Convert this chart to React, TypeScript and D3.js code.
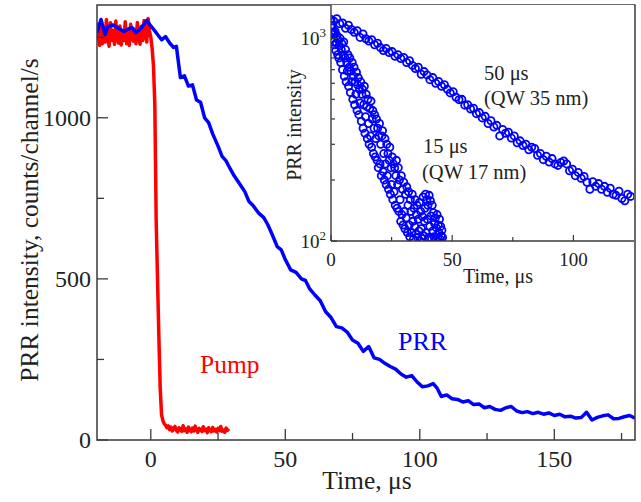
import React from "react";
import * as d3 from "d3";

const width = 641;
const height = 502;

// main panel: PRR and pump transients (linear)
const prrTime = [-20, -18.5, -17, -16, -14, -12, -10, -8.5, -7, -5.5, -3.5, -1.5, 0, 2, 4, 5.5, 7, 8.5, 9.5, 11, 12.5, 14, 15.5, 17, 18.5, 20, 21.5, 23, 25, 26.5, 28, 29.5, 31, 33, 35, 36.5, 38, 40, 42, 43.5, 45, 47, 48.5, 50, 52, 54, 56, 57.5, 59, 61, 63, 65, 67, 69, 71, 73, 75, 77, 79, 81, 83, 85, 87, 89, 91, 93, 95, 97, 99, 101, 103, 105, 106.5, 108, 110, 112, 114, 116, 118, 120, 122, 124, 126, 128, 130, 132, 134, 136, 138, 140, 142, 144, 146, 148, 150, 152, 154, 156, 158, 160, 162, 164, 166, 168, 170, 172, 174, 176, 178, 180];
const prrCounts = [1265, 1305, 1258, 1282, 1288, 1278, 1268, 1275, 1280, 1264, 1279, 1302, 1285, 1264, 1242, 1252, 1232, 1218, 1222, 1125, 1130, 1098, 1102, 1055, 1048, 1000, 985, 950, 912, 880, 866, 842, 820, 795, 770, 740, 728, 705, 690, 668, 640, 600, 590, 560, 528, 520, 500, 495, 470, 450, 432, 398, 380, 352, 348, 335, 310, 300, 275, 290, 255, 250, 238, 228, 220, 205, 195, 200, 180, 165, 168, 175, 160, 135, 140, 128, 126, 118, 122, 110, 112, 100, 104, 95, 92, 100, 104, 90, 85, 88, 82, 86, 80, 84, 76, 80, 72, 74, 68, 70, 86, 62, 70, 75, 78, 66, 67, 72, 76, 68];

// pump: 0.5 us channels starting at -20 us
const pumpStart = -20;
const pumpChannel = 0.5;
const pumpCounts = [1240, 1290, 1225, 1300, 1230, 1280, 1235, 1305, 1250, 1222, 1295, 1240, 1270, 1228, 1300, 1245, 1232, 1285, 1226, 1262, 1240, 1298, 1230, 1268, 1225, 1290, 1248, 1238, 1275, 1230, 1296, 1252, 1228, 1284, 1240, 1302, 1262, 1235, 1308, 1270, 1250, 1215, 1160, 1040, 680, 500, 320, 160, 78, 60, 50, 46, 38, 44, 32, 40, 28, 36, 42, 30, 25, 38, 33, 27, 44, 29, 35, 24, 40, 31, 26, 37, 28, 43, 30, 24, 36, 32, 27, 41, 29, 34, 23, 38, 30, 26, 39, 28, 33, 25, 36, 29, 42, 27, 31, 24, 37, 30, 35];

// inset: log-scale decays, fixed channel widths
const qw35Channel = 1.2;
const qw35Counts = [1240, 1215, 1250, 1180, 1190, 1120, 1160, 1105, 1070, 1090, 1010, 1050, 995, 970, 985, 930, 945, 900, 870, 890, 850, 860, 815, 830, 795, 805, 760, 775, 735, 710, 720, 665, 685, 660, 625, 640, 600, 612, 580, 590, 560, 538, 545, 512, 498, 500, 468, 470, 448, 452, 425, 430, 405, 412, 380, 392, 365, 372, 330, 355, 340, 344, 322, 330, 305, 312, 296, 300, 282, 290, 286, 265, 270, 252, 262, 245, 255, 240, 236, 244, 248, 240, 222, 226, 210, 218, 204, 208, 195, 180, 196, 186, 192, 180, 186, 174, 182, 170, 168, 176, 162, 158, 170, 166];
const qw17Channel = 0.25;
const qw17Counts = [1160, 1050, 1150, 1060, 960, 1070, 930, 1080, 870, 950, 1030, 830, 980, 800, 920, 1000, 760, 880, 940, 700, 830, 960, 650, 800, 880, 610, 760, 690, 830, 580, 720, 800, 540, 690, 610, 760, 500, 650, 720, 470, 610, 530, 680, 440, 590, 640, 420, 560, 480, 610, 390, 530, 560, 360, 470, 580, 340, 410, 530, 460, 320, 500, 380, 300, 450, 330, 490, 290, 400, 440, 270, 360, 420, 260, 320, 400, 250, 360, 230, 330, 380, 240, 300, 210, 330, 350, 220, 270, 200, 320, 240, 190, 300, 210, 270, 180, 250, 290, 170, 230, 190, 260, 160, 240, 175, 230, 150, 210, 250, 145, 190, 230, 140, 200, 160, 125, 210, 135, 180, 120, 195, 140, 115, 170, 130, 185, 110, 150, 175, 120, 105, 160, 140, 110, 170, 125, 102, 145, 118, 160, 108, 135, 150, 104, 128, 112, 155, 100, 140, 115, 103, 132, 165, 106, 125, 145, 170, 110, 160, 128, 150, 104, 168, 118, 158, 133, 102, 150, 112, 138, 105, 122, 130, 101, 116, 135, 104, 120, 110, 128, 102, 118, 106, 113, 104];

const xMajor = [0, 50, 100, 150];
const xMinor = [25, 75, 125, 175];
const yMajor = [0, 500, 1000];
const yMinor = [250, 750, 1250];
const insetXMajor = [0, 50, 100];
const insetXMinor = [25, 75];

const serif = "'Liberation Serif', 'Times New Roman', serif";
const ink = "#222";
const frame = "#3a3a3a";
const blue = "#0000ff";
const red = "#ff0000";

export default function App() {
  const x = d3.scaleLinear().domain([-20, 180]).range([97, 635]);
  const y = d3.scaleLinear().domain([0, 1350]).range([440, 5]);
  const xi = d3.scaleLinear().domain([0, 125]).range([331, 634]);
  const yi = d3.scaleLog().domain([100, 1460]).range([241, 5]);

  const line = d3
    .line<[number, number]>()
    .x(d => x(d[0]))
    .y(d => y(d[1]));

  const prrPts: [number, number][] = prrTime.map((t, i) => [t, prrCounts[i]]);
  const pumpPts: [number, number][] = pumpCounts.map((v, i) => [pumpStart + i * pumpChannel, v]);

  const [x0, x1] = x.range();
  const [y0, y1] = y.range();
  const [ix0, ix1] = xi.range();
  const [iy0, iy1] = yi.range();

  return (
    <svg
      width={width}
      height={height}
      style={{ position: "absolute", left: 0, top: 0, background: "#fff" }}
      fontFamily={serif}
    >
      <defs>
        <clipPath id="mainClip">
          <rect x={x0} y={y1} width={x1 - x0} height={y0 - y1} />
        </clipPath>
        <clipPath id="insetClip">
          <rect x={ix0} y={iy1} width={ix1 - ix0} height={iy0 - iy1} />
        </clipPath>
      </defs>

      {/* main curves: blue on top of red */}
      <g clipPath="url(#mainClip)">
        <path d={line(pumpPts) || ""} fill="none" stroke={red} strokeWidth={3.5} strokeLinejoin="round" />
        <path d={line(prrPts) || ""} fill="none" stroke={blue} strokeWidth={3.5} strokeLinejoin="round" />
      </g>

      {/* main frame + ticks */}
      <rect x={x0} y={y1} width={x1 - x0} height={y0 - y1} fill="none" stroke={frame} strokeWidth={1.5} />
      {xMajor.map(t => (
        <g key={"xM" + t}>
          <line x1={x(t)} x2={x(t)} y1={y0} y2={y0 - 11} stroke={frame} strokeWidth={1.3} />
          <text x={x(t)} y={467} textAnchor="middle" fontSize={24} fill={ink}>{t}</text>
        </g>
      ))}
      {xMinor.map(t => (
        <line key={"xm" + t} x1={x(t)} x2={x(t)} y1={y0} y2={y0 - 7} stroke={frame} strokeWidth={1.3} />
      ))}
      {yMajor.map(v => (
        <g key={"yM" + v}>
          <line x1={x0} x2={x0 + 11} y1={y(v)} y2={y(v)} stroke={frame} strokeWidth={1.3} />
          <text x={91} y={y(v) + 8} textAnchor="end" fontSize={24} fill={ink}>{v}</text>
        </g>
      ))}
      {yMinor.map(v => (
        <line key={"ym" + v} x1={x0} x2={x0 + 7} y1={y(v)} y2={y(v)} stroke={frame} strokeWidth={1.3} />
      ))}
      <text x={367} y={489} textAnchor="middle" fontSize={25.5} fill={ink}>Time, μs</text>
      <text transform="translate(38,220) rotate(-90)" textAnchor="middle" fontSize={25.5} fill={ink}>
        PRR intensity, counts/channel/s
      </text>
      <text x={398} y={350} fontSize={26} fill={blue}>PRR</text>
      <text x={200} y={373} fontSize={25.5} fill={red}>Pump</text>

      {/* inset */}
      <rect x={ix0} y={iy1} width={ix1 - ix0} height={iy0 - iy1} fill="#fff" />
      <g clipPath="url(#insetClip)">
        {qw17Counts.map((v, i) => (
          <circle key={"b" + i} cx={xi(i * qw17Channel)} cy={yi(v)} r={3.6} fill="none" stroke={blue} strokeWidth={1.8} />
        ))}
        {qw35Counts.map((v, i) => (
          <circle key={"a" + i} cx={xi(i * qw35Channel)} cy={yi(v)} r={3.6} fill="none" stroke={blue} strokeWidth={1.8} />
        ))}
      </g>
      <line x1={ix0} x2={ix0} y1={iy1} y2={iy0} stroke={frame} strokeWidth={1.4} />
      <line x1={ix0} x2={ix1} y1={iy0} y2={iy0} stroke={frame} strokeWidth={1.4} />
      {insetXMajor.map(t => (
        <g key={"ixM" + t}>
          <line x1={xi(t)} x2={xi(t)} y1={iy0} y2={iy0 - 6} stroke={frame} strokeWidth={1.2} />
          <text x={xi(t)} y={266} textAnchor="middle" fontSize={19} fill={ink}>{t}</text>
        </g>
      ))}
      {insetXMinor.map(t => (
        <line key={"ixm" + t} x1={xi(t)} x2={xi(t)} y1={iy0} y2={iy0 - 4} stroke={frame} strokeWidth={1.2} />
      ))}
      {yi.ticks().map(v => {
        const major = v === 100 || v === 1000;
        return (
          <line key={"iy" + v} x1={ix0} x2={ix0 + (major ? 6 : 4)} y1={yi(v)} y2={yi(v)} stroke={frame} strokeWidth={1.2} />
        );
      })}
      {[100, 1000].map(v => (
        <text key={"iyl" + v} x={326} y={yi(v) + 7} textAnchor="end" fontSize={19} fill={ink}>
          10<tspan dy={-8} fontSize={13}>{Math.round(Math.log10(v))}</tspan>
        </text>
      ))}
      <text x={498} y={283} textAnchor="middle" fontSize={20} fill={ink}>Time, μs</text>
      <text transform="translate(301,125) rotate(-90)" textAnchor="middle" fontSize={20} fill={ink}>PRR intensity</text>
      <text x={484} y={80} fontSize={20.5} fill={ink}>50 μs</text>
      <text x={484} y={105} fontSize={20.5} fill={ink}>(QW 35 nm)</text>
      <text x={423} y={153} fontSize={20.5} fill={ink}>15 μs</text>
      <text x={422} y={179} fontSize={20.5} fill={ink}>(QW 17 nm)</text>
    </svg>
  );
}
